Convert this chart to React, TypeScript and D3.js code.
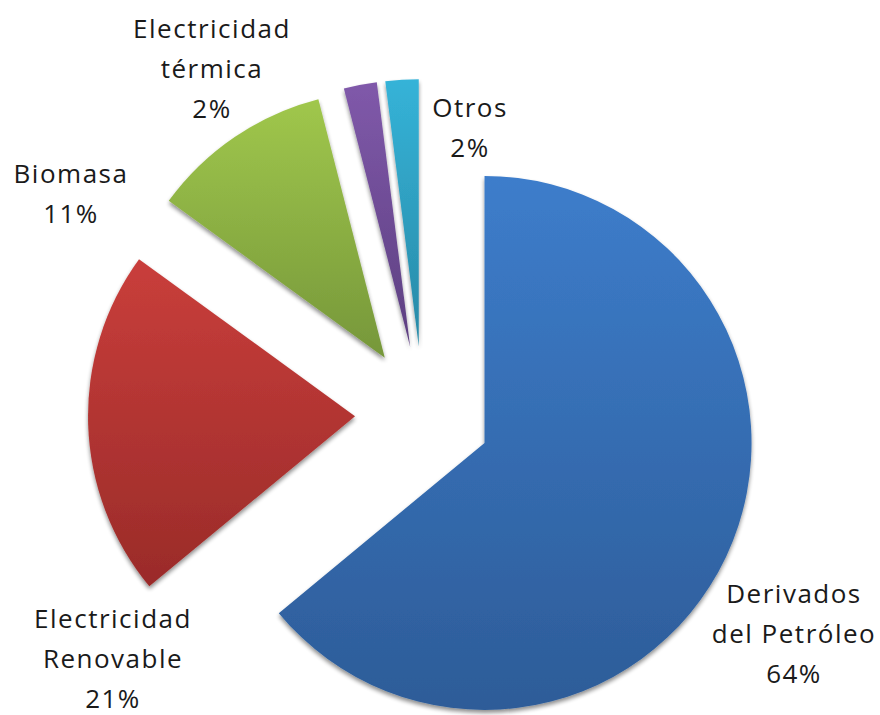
import React from 'react';
import * as d3 from 'd3';

// energy consumption share by source
const categories = ['Derivados del Petróleo', 'Electricidad Renovable', 'Biomasa', 'Electricidad térmica', 'Otros'];
const shares = [64, 21, 11, 2, 2];
const labelLines = [
  ['Derivados', 'del Petróleo', '64%'],
  ['Electricidad', 'Renovable', '21%'],
  ['Biomasa', '11%'],
  ['Electricidad', 'térmica', '2%'],
  ['Otros', '2%'],
];
const topColors = ['#3D7DCB', '#C93E3B', '#A0C74C', '#8059AA', '#35B3D8'];
const bottomColors = ['#2D5C98', '#9A2B29', '#76973A', '#5C3F80', '#2889A6'];

const width = 880;
const height = 715;
const cx = 423;
const cy = 414;
const radius = 267;
const explode = 68;

// label anchor points (center x, first baseline y)
const labelPos = [
  [794, 603],
  [113, 628],
  [71, 183],
  [212, 38],
  [470, 117],
];

export default function App() {
  const pie = d3.pie<number>().sort(null).value(d => d);
  const arcs = pie(shares);
  const arc = d3.arc<d3.PieArcDatum<number>>().innerRadius(0).outerRadius(radius);

  return (
    <svg width={width} height={height} style={{ display: 'block', position: 'absolute', left: 0, top: 0 }}>
      <defs>
        {categories.map((c, i) => (
          <linearGradient key={c} id={'g' + i} x1="0" y1="0" x2="0" y2="1">
            <stop offset="0" stopColor={topColors[i]} />
            <stop offset="1" stopColor={bottomColors[i]} />
          </linearGradient>
        ))}
        <filter id="shadow" x="-10%" y="-10%" width="120%" height="120%">
          <feGaussianBlur in="SourceAlpha" stdDeviation="2" />
          <feOffset dx="0" dy="3" result="b" />
          <feComponentTransfer>
            <feFuncA type="linear" slope="0.45" />
          </feComponentTransfer>
          <feMerge>
            <feMergeNode />
            <feMergeNode in="SourceGraphic" />
          </feMerge>
        </filter>
      </defs>
      <g transform={`translate(${cx},${cy})`}>
        {arcs.map((a, i) => {
          const mid = (a.startAngle + a.endAngle) / 2;
          const dx = Math.sin(mid) * explode;
          const dy = -Math.cos(mid) * explode;
          return (
            <path
              key={categories[i]}
              d={arc(a) || ''}
              transform={`translate(${dx},${dy})`}
              fill={`url(#g${i})`}
              filter="url(#shadow)"
            />
          );
        })}
      </g>
      {labelLines.map((lines, i) => (
        <text
          key={i}
          x={labelPos[i][0]}
          y={labelPos[i][1]}
          textAnchor="middle"
          fontFamily="'Open Sans', sans-serif"
          fontSize={26}
          letterSpacing={1.5}
          fill="#1a1a1a"
        >
          {lines.map((l, j) => (
            <tspan key={j} x={labelPos[i][0]} dy={j === 0 ? 0 : 40}>{l}</tspan>
          ))}
        </text>
      ))}
    </svg>
  );
}
